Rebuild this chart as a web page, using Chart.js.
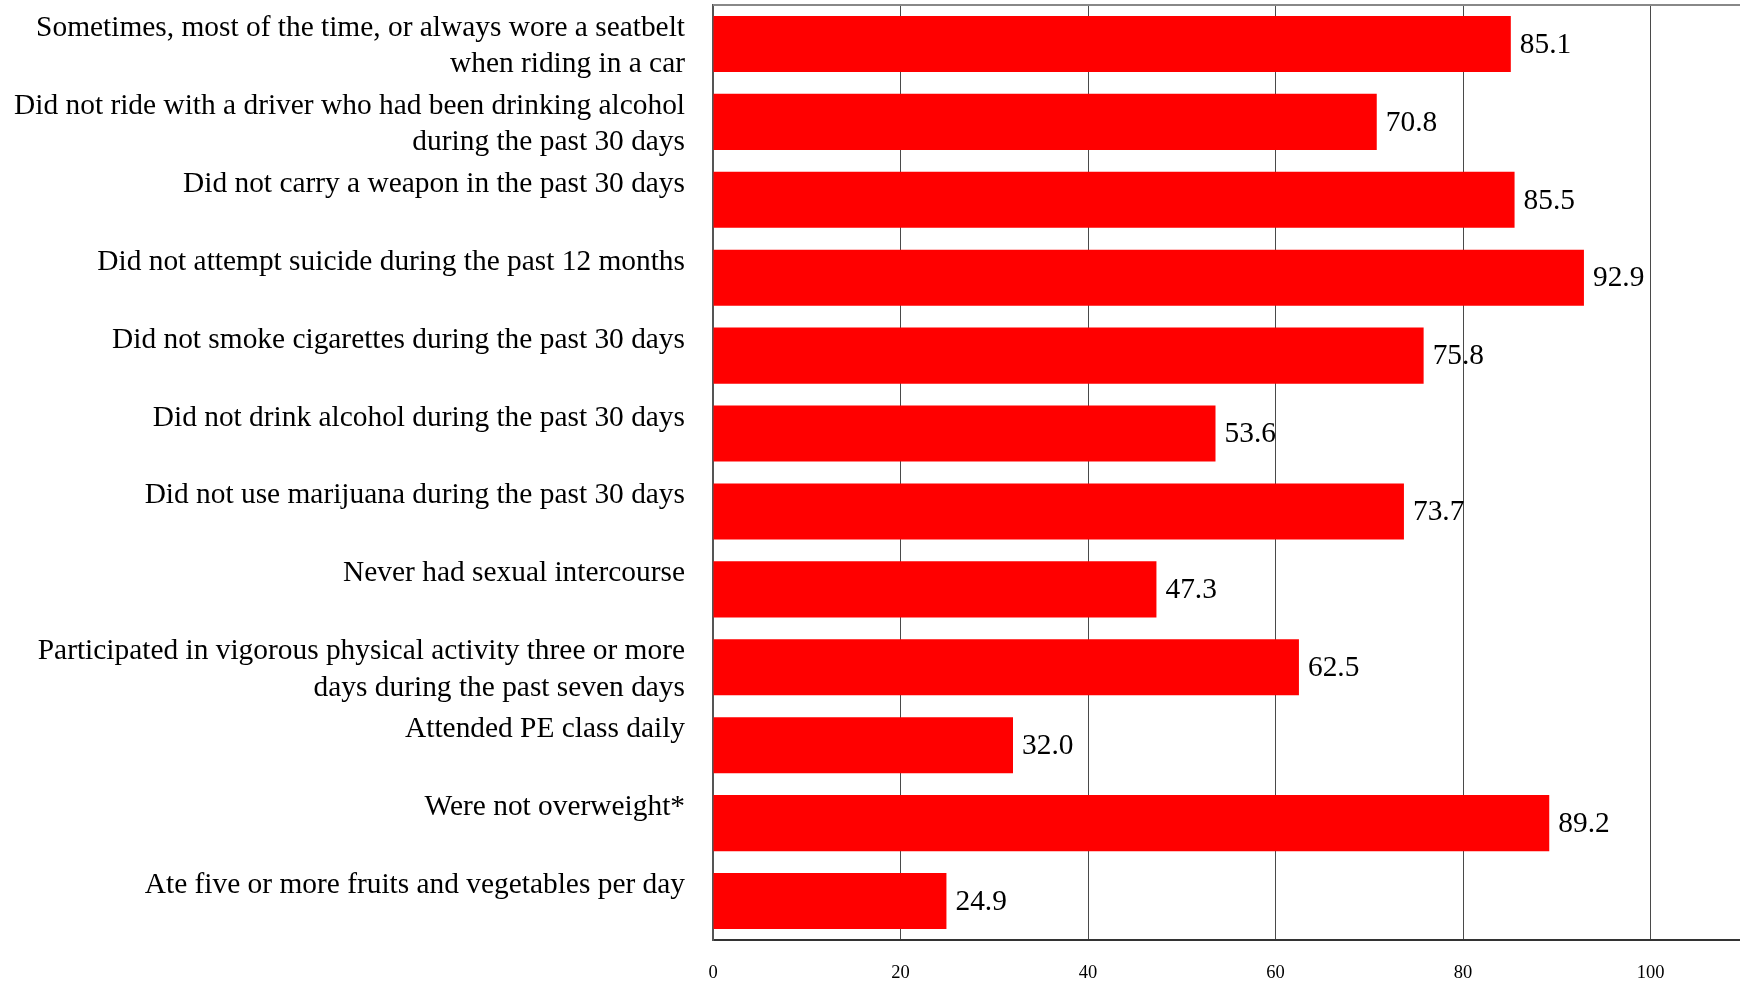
<!DOCTYPE html>
<html>
<head>
<meta charset="utf-8">
<script src="https://cdn.jsdelivr.net/npm/chart.js@4.4.1/dist/chart.umd.min.js"></script>
<style>
  html, body { margin: 0; padding: 0; background: #ffffff; overflow: hidden; }
  #wrap { position: absolute; left: 0; top: 0; width: 1850px; height: 981px; }
</style>
</head>
<body>
<div id="wrap"><canvas id="c" width="1850" height="981"></canvas></div>
<script>
const categories = [
  ["Sometimes, most of the time, or always wore a seatbelt", "when riding in a car"],
  ["Did not ride with a driver who had been drinking alcohol", "during the past 30 days"],
  "Did not carry a weapon in the past 30 days",
  "Did not attempt suicide during the past 12 months",
  "Did not smoke cigarettes during the past 30 days",
  "Did not drink alcohol during the past 30 days",
  "Did not use marijuana during the past 30 days",
  "Never had sexual intercourse",
  ["Participated in vigorous physical activity three or more", "days during the past seven days"],
  "Attended PE class daily",
  "Were not overweight*",
  "Ate five or more fruits and vegetables per day"
];
const percentages = [85.1, 70.8, 85.5, 92.9, 75.8, 53.6, 73.7, 47.3, 62.5, 32.0, 89.2, 24.9];
const xTickValues = [0, 20, 40, 60, 80, 100];

const SERIF = "'Liberation Serif', 'Times New Roman', serif";

const valueLabels = {
  id: 'valueLabels',
  afterDatasetsDraw(chart) {
    const ctx = chart.ctx;
    const meta = chart.getDatasetMeta(0);
    ctx.save();
    ctx.font = "29.4px " + SERIF;
    ctx.fillStyle = "#000000";
    ctx.textAlign = "left";
    ctx.textBaseline = "middle";
    meta.data.forEach((bar, i) => {
      ctx.fillText(percentages[i].toFixed(1), bar.x + 9, bar.y + 1);
    });
    ctx.restore();
  }
};

const topBorder = {
  id: 'topBorder',
  beforeDatasetsDraw(chart) {
    const a = chart.chartArea;
    const ctx = chart.ctx;
    ctx.save();
    ctx.strokeStyle = "#888888";
    ctx.lineWidth = 2;
    ctx.beginPath();
    ctx.moveTo(a.left, a.top);
    ctx.lineTo(chart.width, a.top);
    ctx.stroke();
    ctx.restore();
  }
};

new Chart(document.getElementById('c'), {
  type: 'bar',
  data: {
    labels: categories,
    datasets: [{
      data: percentages,
      backgroundColor: '#ff0000',
      borderWidth: 0,
      barPercentage: 0.72,
      categoryPercentage: 1.0
    }]
  },
  options: {
    indexAxis: 'y',
    responsive: false,
    devicePixelRatio: 1,
    animation: false,
    layout: { padding: { top: 5, left: 0, right: 12, bottom: 0 } },
    plugins: { legend: { display: false }, tooltip: { enabled: false } },
    scales: {
      x: {
        min: 0,
        max: 120,
        afterBuildTicks(scale) { scale.ticks = xTickValues.map(v => ({ value: v })); },
        afterFit(scale) {
          scale.height = 41;
          scale.paddingLeft = 0; scale.paddingRight = 0;
          scale.paddingTop = 0; scale.paddingBottom = 0;
        },
        grid: { color: '#4a4a4a', lineWidth: 1, drawTicks: false },
        border: { color: '#333333', width: 2 },
        ticks: {
          font: { family: SERIF, size: 18.5 },
          color: '#000000',
          padding: 22,
          maxRotation: 0
        }
      },
      y: {
        afterFit(scale) {
          scale.width = 713;
          scale.paddingTop = 0; scale.paddingBottom = 0;
          scale.paddingLeft = 0; scale.paddingRight = 0;
        },
        grid: { display: false, drawTicks: false },
        border: { color: '#555555', width: 2 },
        ticks: {
          font: { family: SERIF, size: 29.4, lineHeight: 1.24 },
          color: '#000000',
          padding: 28,
          labelOffset: 2.5,
          autoSkip: false,
          callback(value, index) {
            const l = categories[index];
            return Array.isArray(l) ? l : [l, ""];
          }
        }
      }
    }
  },
  plugins: [topBorder, valueLabels]
});
</script>
</body>
</html>
